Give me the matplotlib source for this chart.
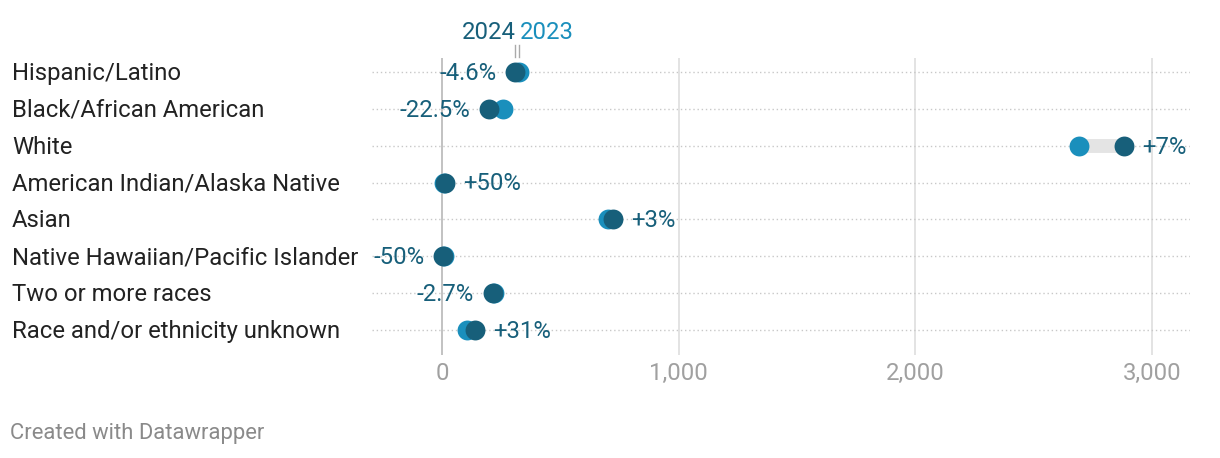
import matplotlib.pyplot as plt
import matplotlib as mpl

mpl.rcParams['font.family'] = ['Roboto', 'DejaVu Sans']

# values
categories = ["Hispanic/Latino", "Black/African American", "White",
              "American Indian/Alaska Native", "Asian",
              "Native Hawaiian/Pacific Islander", "Two or more races",
              "Race and/or ethnicity unknown"]
values_2023 = [325, 258, 2690, 8, 700, 8, 221, 105]
values_2024 = [310, 200, 2880, 12, 721, 4, 215, 138]
change_labels = ["-4.6%", "-22.5%", "+7%", "+50%", "+3%", "-50%", "-2.7%", "+31%"]
tick_values = [0, 1000, 2000, 3000]
tick_labels = ["0", "1,000", "2,000", "3,000"]

c2023 = "#1a8fbc"
c2024 = "#175f7a"
fs = 17.2

W, H = 1220, 458
fig = plt.figure(figsize=(W / 100, H / 100), dpi=100)

# axes placed in pixel terms
left, right, top, bottom = 372, 1190, 58, 355
ax = fig.add_axes([left / W, 1 - bottom / H, (right - left) / W, (bottom - top) / H])

px_per_unit = 0.2367
ax.set_xlim((left - 442) / px_per_unit, (right - 442) / px_per_unit)
row_gap = 36.86
ax.set_ylim((bottom - 72) / row_gap, -(72 - top) / row_gap)

for s in ax.spines.values():
    s.set_visible(False)
ax.set_yticks([])
ax.set_xticks(tick_values)
ax.set_xticklabels(tick_labels, color="#a0a0a0", fontsize=fs)
ax.tick_params(axis="x", length=0, pad=5)

# gridlines
for t in tick_values:
    ax.axvline(t, color="#bdbdbd" if t == 0 else "#e0e0e0", lw=1.3, zorder=0)
for i in range(len(categories)):
    ax.plot([ax.get_xlim()[0], ax.get_xlim()[1]], [i, i], color="#c8c8c8",
            lw=1, ls=(0, (1, 2)), zorder=0)

# dumbbells
for i, (a, b) in enumerate(zip(values_2023, values_2024)):
    ax.plot([a, b], [i, i], color="#e4e4e4", lw=10, solid_capstyle="butt", zorder=1)
ys = list(range(len(categories)))
ax.scatter(values_2023, ys, s=205, color=c2023, zorder=2, linewidths=0)
ax.scatter(values_2024, ys, s=205, color=c2024, zorder=3, linewidths=0)

# change labels
for i, (a, b, lab) in enumerate(zip(values_2023, values_2024, change_labels)):
    if b >= a:
        ax.annotate(lab, (max(a, b), i), xytext=(13.5, -1), textcoords="offset points",
                    ha="left", va="center", color=c2024, fontsize=fs)
    else:
        ax.annotate(lab, (min(a, b), i), xytext=(-13.5, -1), textcoords="offset points",
                    ha="right", va="center", color=c2024, fontsize=fs)

# category labels
for i, cat in enumerate(categories):
    ax.annotate(cat, xy=(12 / W, i), xycoords=("figure fraction", "data"),
                xytext=(0, -1), textcoords="offset points",
                ha="left", va="center", color="#222222", fontsize=fs)

# legend above first row
ax.plot([values_2024[0], values_2024[0]], [-0.72, -0.42], color="#aaaaaa",
        lw=1, clip_on=False)
ax.plot([values_2023[0], values_2023[0]], [-0.72, -0.42], color="#aaaaaa",
        lw=1, clip_on=False)
ax.annotate("2024", (values_2024[0], -1.06), xytext=(0, 0), textcoords="offset points",
            ha="right", va="center", color=c2024, fontsize=fs, annotation_clip=False)
ax.annotate("2023", (values_2023[0], -1.06), xytext=(1, 0), textcoords="offset points",
            ha="left", va="center", color=c2023, fontsize=fs, annotation_clip=False)

fig.text(10 / W, 1 - 434 / H, "Created with Datawrapper", ha="left", va="center",
         color="#8a8a8a", fontsize=15.8)

fig.savefig("out.png", dpi=100)
